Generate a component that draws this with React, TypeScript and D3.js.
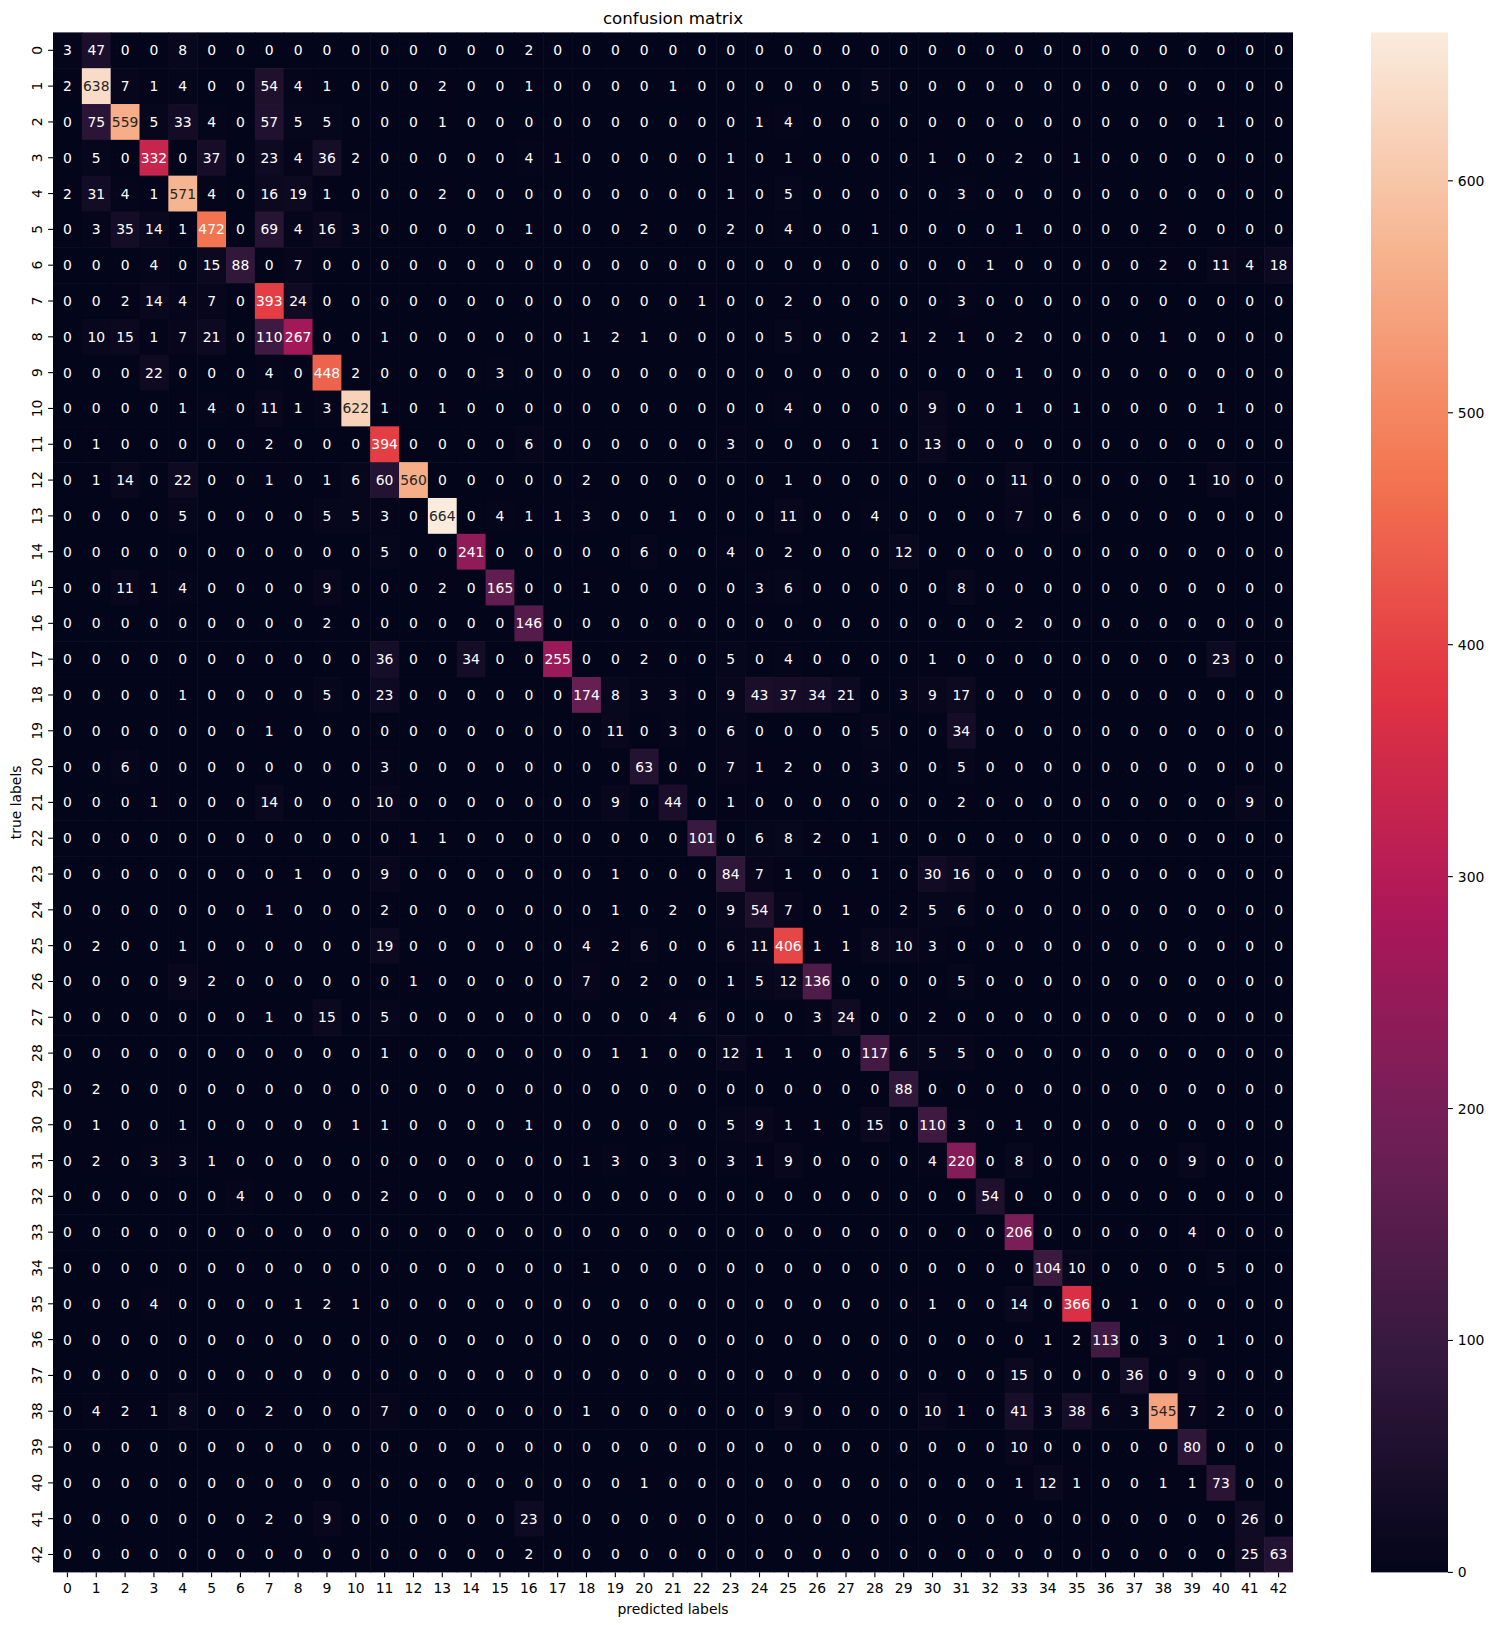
import React from 'react';
import * as d3 from 'd3';

const labels = ['0','1','2','3','4','5','6','7','8','9','10','11','12','13','14','15','16','17','18','19','20','21','22','23','24','25','26','27','28','29','30','31','32','33','34','35','36','37','38','39','40','41','42'];

// rows = true labels, columns = predicted labels
const counts: number[][] = [
  [3,47,0,0,8,0,0,0,0,0, 0,0,0,0,0,0,2,0,0,0, 0,0,0,0,0,0,0,0,0,0, 0,0,0,0,0,0,0,0,0,0, 0,0,0],
  [2,638,7,1,4,0,0,54,4,1, 0,0,0,2,0,0,1,0,0,0, 0,1,0,0,0,0,0,0,5,0, 0,0,0,0,0,0,0,0,0,0, 0,0,0],
  [0,75,559,5,33,4,0,57,5,5, 0,0,0,1,0,0,0,0,0,0, 0,0,0,0,1,4,0,0,0,0, 0,0,0,0,0,0,0,0,0,0, 1,0,0],
  [0,5,0,332,0,37,0,23,4,36, 2,0,0,0,0,0,4,1,0,0, 0,0,0,1,0,1,0,0,0,0, 1,0,0,2,0,1,0,0,0,0, 0,0,0],
  [2,31,4,1,571,4,0,16,19,1, 0,0,0,2,0,0,0,0,0,0, 0,0,0,1,0,5,0,0,0,0, 0,3,0,0,0,0,0,0,0,0, 0,0,0],
  [0,3,35,14,1,472,0,69,4,16, 3,0,0,0,0,0,1,0,0,0, 2,0,0,2,0,4,0,0,1,0, 0,0,0,1,0,0,0,0,2,0, 0,0,0],
  [0,0,0,4,0,15,88,0,7,0, 0,0,0,0,0,0,0,0,0,0, 0,0,0,0,0,0,0,0,0,0, 0,0,1,0,0,0,0,0,2,0, 11,4,18],
  [0,0,2,14,4,7,0,393,24,0, 0,0,0,0,0,0,0,0,0,0, 0,0,1,0,0,2,0,0,0,0, 0,3,0,0,0,0,0,0,0,0, 0,0,0],
  [0,10,15,1,7,21,0,110,267,0, 0,1,0,0,0,0,0,0,1,2, 1,0,0,0,0,5,0,0,2,1, 2,1,0,2,0,0,0,0,1,0, 0,0,0],
  [0,0,0,22,0,0,0,4,0,448, 2,0,0,0,0,3,0,0,0,0, 0,0,0,0,0,0,0,0,0,0, 0,0,0,1,0,0,0,0,0,0, 0,0,0],
  [0,0,0,0,1,4,0,11,1,3, 622,1,0,1,0,0,0,0,0,0, 0,0,0,0,0,4,0,0,0,0, 9,0,0,1,0,1,0,0,0,0, 1,0,0],
  [0,1,0,0,0,0,0,2,0,0, 0,394,0,0,0,0,6,0,0,0, 0,0,0,3,0,0,0,0,1,0, 13,0,0,0,0,0,0,0,0,0, 0,0,0],
  [0,1,14,0,22,0,0,1,0,1, 6,60,560,0,0,0,0,0,2,0, 0,0,0,0,0,1,0,0,0,0, 0,0,0,11,0,0,0,0,0,1, 10,0,0],
  [0,0,0,0,5,0,0,0,0,5, 5,3,0,664,0,4,1,1,3,0, 0,1,0,0,0,11,0,0,4,0, 0,0,0,7,0,6,0,0,0,0, 0,0,0],
  [0,0,0,0,0,0,0,0,0,0, 0,5,0,0,241,0,0,0,0,0, 6,0,0,4,0,2,0,0,0,12, 0,0,0,0,0,0,0,0,0,0, 0,0,0],
  [0,0,11,1,4,0,0,0,0,9, 0,0,0,2,0,165,0,0,1,0, 0,0,0,0,3,6,0,0,0,0, 0,8,0,0,0,0,0,0,0,0, 0,0,0],
  [0,0,0,0,0,0,0,0,0,2, 0,0,0,0,0,0,146,0,0,0, 0,0,0,0,0,0,0,0,0,0, 0,0,0,2,0,0,0,0,0,0, 0,0,0],
  [0,0,0,0,0,0,0,0,0,0, 0,36,0,0,34,0,0,255,0,0, 2,0,0,5,0,4,0,0,0,0, 1,0,0,0,0,0,0,0,0,0, 23,0,0],
  [0,0,0,0,1,0,0,0,0,5, 0,23,0,0,0,0,0,0,174,8, 3,3,0,9,43,37,34,21,0,3, 9,17,0,0,0,0,0,0,0,0, 0,0,0],
  [0,0,0,0,0,0,0,1,0,0, 0,0,0,0,0,0,0,0,0,11, 0,3,0,6,0,0,0,0,5,0, 0,34,0,0,0,0,0,0,0,0, 0,0,0],
  [0,0,6,0,0,0,0,0,0,0, 0,3,0,0,0,0,0,0,0,0, 63,0,0,7,1,2,0,0,3,0, 0,5,0,0,0,0,0,0,0,0, 0,0,0],
  [0,0,0,1,0,0,0,14,0,0, 0,10,0,0,0,0,0,0,0,9, 0,44,0,1,0,0,0,0,0,0, 0,2,0,0,0,0,0,0,0,0, 0,9,0],
  [0,0,0,0,0,0,0,0,0,0, 0,0,1,1,0,0,0,0,0,0, 0,0,101,0,6,8,2,0,1,0, 0,0,0,0,0,0,0,0,0,0, 0,0,0],
  [0,0,0,0,0,0,0,0,1,0, 0,9,0,0,0,0,0,0,0,1, 0,0,0,84,7,1,0,0,1,0, 30,16,0,0,0,0,0,0,0,0, 0,0,0],
  [0,0,0,0,0,0,0,1,0,0, 0,2,0,0,0,0,0,0,0,1, 0,2,0,9,54,7,0,1,0,2, 5,6,0,0,0,0,0,0,0,0, 0,0,0],
  [0,2,0,0,1,0,0,0,0,0, 0,19,0,0,0,0,0,0,4,2, 6,0,0,6,11,406,1,1,8,10, 3,0,0,0,0,0,0,0,0,0, 0,0,0],
  [0,0,0,0,9,2,0,0,0,0, 0,0,1,0,0,0,0,0,7,0, 2,0,0,1,5,12,136,0,0,0, 0,5,0,0,0,0,0,0,0,0, 0,0,0],
  [0,0,0,0,0,0,0,1,0,15, 0,5,0,0,0,0,0,0,0,0, 0,4,6,0,0,0,3,24,0,0, 2,0,0,0,0,0,0,0,0,0, 0,0,0],
  [0,0,0,0,0,0,0,0,0,0, 0,1,0,0,0,0,0,0,0,1, 1,0,0,12,1,1,0,0,117,6, 5,5,0,0,0,0,0,0,0,0, 0,0,0],
  [0,2,0,0,0,0,0,0,0,0, 0,0,0,0,0,0,0,0,0,0, 0,0,0,0,0,0,0,0,0,88, 0,0,0,0,0,0,0,0,0,0, 0,0,0],
  [0,1,0,0,1,0,0,0,0,0, 1,1,0,0,0,0,1,0,0,0, 0,0,0,5,9,1,1,0,15,0, 110,3,0,1,0,0,0,0,0,0, 0,0,0],
  [0,2,0,3,3,1,0,0,0,0, 0,0,0,0,0,0,0,0,1,3, 0,3,0,3,1,9,0,0,0,0, 4,220,0,8,0,0,0,0,0,9, 0,0,0],
  [0,0,0,0,0,0,4,0,0,0, 0,2,0,0,0,0,0,0,0,0, 0,0,0,0,0,0,0,0,0,0, 0,0,54,0,0,0,0,0,0,0, 0,0,0],
  [0,0,0,0,0,0,0,0,0,0, 0,0,0,0,0,0,0,0,0,0, 0,0,0,0,0,0,0,0,0,0, 0,0,0,206,0,0,0,0,0,4, 0,0,0],
  [0,0,0,0,0,0,0,0,0,0, 0,0,0,0,0,0,0,0,1,0, 0,0,0,0,0,0,0,0,0,0, 0,0,0,0,104,10,0,0,0,0, 5,0,0],
  [0,0,0,4,0,0,0,0,1,2, 1,0,0,0,0,0,0,0,0,0, 0,0,0,0,0,0,0,0,0,0, 1,0,0,14,0,366,0,1,0,0, 0,0,0],
  [0,0,0,0,0,0,0,0,0,0, 0,0,0,0,0,0,0,0,0,0, 0,0,0,0,0,0,0,0,0,0, 0,0,0,0,1,2,113,0,3,0, 1,0,0],
  [0,0,0,0,0,0,0,0,0,0, 0,0,0,0,0,0,0,0,0,0, 0,0,0,0,0,0,0,0,0,0, 0,0,0,15,0,0,0,36,0,9, 0,0,0],
  [0,4,2,1,8,0,0,2,0,0, 0,7,0,0,0,0,0,0,1,0, 0,0,0,0,0,9,0,0,0,0, 10,1,0,41,3,38,6,3,545,7, 2,0,0],
  [0,0,0,0,0,0,0,0,0,0, 0,0,0,0,0,0,0,0,0,0, 0,0,0,0,0,0,0,0,0,0, 0,0,0,10,0,0,0,0,0,80, 0,0,0],
  [0,0,0,0,0,0,0,0,0,0, 0,0,0,0,0,0,0,0,0,0, 1,0,0,0,0,0,0,0,0,0, 0,0,0,1,12,1,0,0,1,1, 73,0,0],
  [0,0,0,0,0,0,0,2,0,9, 0,0,0,0,0,0,23,0,0,0, 0,0,0,0,0,0,0,0,0,0, 0,0,0,0,0,0,0,0,0,0, 0,26,0],
  [0,0,0,0,0,0,0,0,0,0, 0,0,0,0,0,0,2,0,0,0, 0,0,0,0,0,0,0,0,0,0, 0,0,0,0,0,0,0,0,0,0, 0,25,63],
];

const colorbarTicks = [0, 100, 200, 300, 400, 500, 600];

// seaborn "rocket" colormap anchor colours
const rocketStops = ['#03051a', '#35193e', '#701f57', '#ad1759', '#e13342', '#f37651', '#f6b48f', '#faebdd'];

const W = 1493;
const H = 1625;
const plot = { left: 53, right: 1293, top: 32.4, bottom: 1572.4 };
const cbar = { left: 1371, right: 1448 };
const FONT = "'DejaVu Sans', Verdana, sans-serif";
const FS = 13.9;

function luminance(c: string): number {
  const rgb = d3.rgb(c);
  const lin = (v: number) => {
    const s = v / 255;
    return s <= 0.03928 ? s / 12.92 : Math.pow((s + 0.055) / 1.055, 2.4);
  };
  return 0.2126 * lin(rgb.r) + 0.7152 * lin(rgb.g) + 0.0722 * lin(rgb.b);
}

export default function App() {
  const vmax = d3.max(counts.flat()) as number;
  const interp = d3.piecewise(d3.interpolateRgb, rocketStops);
  const color = d3.scaleSequential(interp).domain([0, vmax]);
  const x = d3.scaleBand<string>().domain(labels).range([plot.left, plot.right]);
  const y = d3.scaleBand<string>().domain(labels).range([plot.top, plot.bottom]);
  const cy = d3.scaleLinear().domain([0, vmax]).range([plot.bottom, plot.top]);
  const bw = x.bandwidth();
  const bh = y.bandwidth();
  const midX = (plot.left + plot.right) / 2;
  const midY = (plot.top + plot.bottom) / 2;
  const gradStops = d3.range(0, 65).map((i) => i / 64);

  return (
    <svg
      width={W}
      height={H}
      viewBox={`0 0 ${W} ${H}`}
      style={{ position: 'absolute', left: 0, top: 0, display: 'block', background: '#ffffff' }}
      fontFamily={FONT}
    >
      <defs>
        <linearGradient id="cbgrad" x1="0" y1="1" x2="0" y2="0">
          {gradStops.map((t) => (
            <stop key={t} offset={t} stopColor={interp(t)} />
          ))}
        </linearGradient>
      </defs>
      <rect x={0} y={0} width={W} height={H} fill="#ffffff" />

      {/* cells */}
      <g>
        {counts.map((row, i) =>
          row.map((v, j) => (
            <rect
              key={`c${i}-${j}`}
              x={x(labels[j])}
              y={y(labels[i])}
              width={bw + (j < labels.length - 1 ? 0.6 : 0)}
              height={bh + (i < labels.length - 1 ? 0.6 : 0)}
              fill={color(v)}
            />
          ))
        )}
      </g>

      {/* annotations */}
      <g fontSize={FS} textAnchor="middle">
        {counts.map((row, i) =>
          row.map((v, j) => {
            const c = color(v);
            const tc = luminance(c) > 0.408 ? '#262626' : '#ffffff';
            return (
              <text
                key={`t${i}-${j}`}
                x={(x(labels[j]) as number) + bw / 2}
                y={(y(labels[i]) as number) + bh / 2 + 5}
                fill={tc}
              >
                {v}
              </text>
            );
          })
        )}
      </g>

      {/* x axis ticks */}
      <g fontSize={FS} textAnchor="middle" fill="#000000">
        {labels.map((l) => {
          const cx = (x(l) as number) + bw / 2;
          return (
            <g key={`xt${l}`}>
              <line x1={cx} x2={cx} y1={plot.bottom} y2={plot.bottom + 4.9} stroke="#000000" strokeWidth={1.1} />
              <text x={cx} y={plot.bottom + 20.5}>{l}</text>
            </g>
          );
        })}
      </g>

      {/* y axis ticks */}
      <g fontSize={FS} textAnchor="middle" fill="#000000">
        {labels.map((l) => {
          const yc = (y(l) as number) + bh / 2;
          return (
            <g key={`yt${l}`}>
              <line x1={plot.left - 4.9} x2={plot.left} y1={yc} y2={yc} stroke="#000000" strokeWidth={1.1} />
              <text transform={`translate(${plot.left - 11}, ${yc}) rotate(-90)`}>{l}</text>
            </g>
          );
        })}
      </g>

      {/* title and axis labels */}
      <text x={midX} y={24.3} fontSize={16.7} textAnchor="middle" fill="#000000">confusion matrix</text>
      <text x={midX} y={1613.6} fontSize={FS} textAnchor="middle" fill="#000000">predicted labels</text>
      <text transform={`translate(20.5, ${midY}) rotate(-90)`} fontSize={FS} textAnchor="middle" fill="#000000">true labels</text>

      {/* colorbar */}
      <rect x={cbar.left} y={plot.top} width={cbar.right - cbar.left} height={plot.bottom - plot.top} fill="url(#cbgrad)" />
      <g fontSize={FS} fill="#000000">
        {colorbarTicks.map((t) => (
          <g key={`cb${t}`}>
            <line x1={cbar.right} x2={cbar.right + 4.9} y1={cy(t)} y2={cy(t)} stroke="#000000" strokeWidth={1.1} />
            <text x={cbar.right + 9.8} y={cy(t) + 5}>{t}</text>
          </g>
        ))}
      </g>
    </svg>
  );
}
